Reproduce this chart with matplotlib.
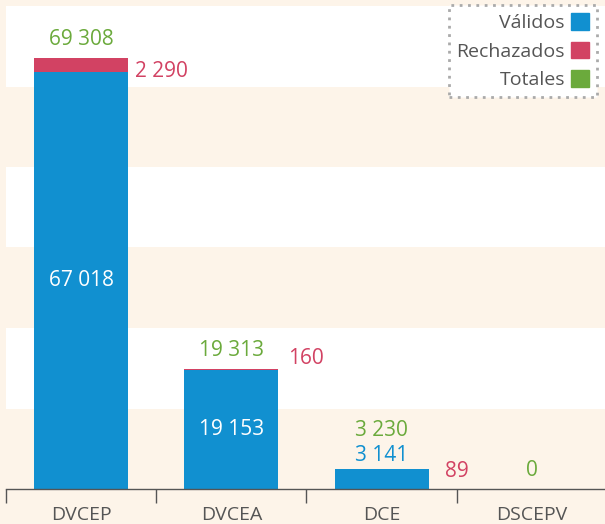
import matplotlib.pyplot as plt
import numpy as np
from matplotlib.patches import Patch

plt.rcParams['font.family'] = ['Open Sans', 'DejaVu Sans']

# datos
categorias = ['DVCEP', 'DVCEA', 'DCE', 'DSCEPV']
validos = [67018, 19153, 3141, 0]
rechazados = [2290, 160, 89, 0]
totales = [69308, 19313, 3230, 0]

azul = '#1190D0'
rojo = '#D24263'
verde = '#6BAA3C'
crema = '#FDF4E9'
gris = '#555555'

def fmt(v):
    return f'{v:,}'.replace(',', ' ')

fig = plt.figure(figsize=(6.05, 5.24), dpi=100, facecolor=crema)
ax = fig.add_axes([6 / 605, 1 - 489 / 524, 601 / 605, 483 / 524])
ax.set_facecolor(crema)

ymax = 77650
ax.set_ylim(0, ymax)
ax.set_xlim(-0.5, 3.5)

# bandas de fondo alternas
paso = ymax / 6
for i in range(6):
    ax.axhspan(i * paso, (i + 1) * paso, color=crema if i % 2 == 0 else 'white', lw=0, zorder=0)

x = np.arange(len(categorias))
ancho = 0.625
ax.bar(x, validos, ancho, color=azul, zorder=2)
ax.bar(x, rechazados, ancho, bottom=validos, color=rojo, zorder=2)

# etiquetas
for i in range(len(categorias)):
    v, r, t = validos[i], rechazados[i], totales[i]
    if v > 10000:
        ax.text(x[i], v / 2, fmt(v), color='white', ha='center', va='center', fontsize=15, zorder=3)
        ax.annotate(fmt(t), (x[i], t), xytext=(0, 13), textcoords='offset points',
                    ha='center', va='center', color=verde, fontsize=15)
    elif v > 0:
        ax.annotate(fmt(v), (x[i], t), xytext=(0, 9.5), textcoords='offset points',
                    ha='center', va='center', color=azul, fontsize=15)
        ax.annotate(fmt(t), (x[i], t), xytext=(0, 28), textcoords='offset points',
                    ha='center', va='center', color=verde, fontsize=15)
    else:
        ax.annotate(fmt(t), (x[i], t), xytext=(0, 13), textcoords='offset points',
                    ha='center', va='center', color=verde, fontsize=15)

# rojo: posiciones a mano como en el original
desplaz_rojo = [(5, -5), (7, 8), (12, -2)]
for i in range(3):
    ax.annotate(fmt(rechazados[i]), (x[i] + ancho / 2, validos[i] + rechazados[i] / 2),
                xytext=desplaz_rojo[i], textcoords='offset points',
                ha='left', va='center', color=rojo, fontsize=15)

# ejes
for s in ['top', 'right', 'left']:
    ax.spines[s].set_visible(False)
ax.spines['bottom'].set_color(gris)
ax.spines['bottom'].set_linewidth(1)
ax.set_yticks([])
ax.set_xticks(x)
ax.set_xticklabels(categorias, fontsize=14, color=gris)
ax.tick_params(axis='x', which='major', length=0, pad=12.5)
ax.set_xticks(np.arange(-0.5, 3.5, 1), minor=True)
ax.tick_params(axis='x', which='minor', length=10, color=gris, width=1)

# leyenda
handles = [Patch(color=azul, label='Válidos'),
           Patch(color=rojo, label='Rechazados'),
           Patch(color=verde, label='Totales')]
leg = ax.legend(handles=handles, loc='upper right', bbox_to_anchor=(597 / 605, 1 - 5 / 524),
                bbox_transform=fig.transFigure, markerfirst=False, fontsize=14,
                handlelength=0.95, handleheight=0.95, handletextpad=0.3,
                labelspacing=0.5, borderpad=0.4, borderaxespad=0, fancybox=False,
                framealpha=1, labelcolor=gris)
frame = leg.get_frame()
frame.set_edgecolor('#AAAAAA')
frame.set_linewidth(2)
frame.set_linestyle((0, (1, 2)))

plt.savefig('out.png', dpi=100, facecolor=crema)
